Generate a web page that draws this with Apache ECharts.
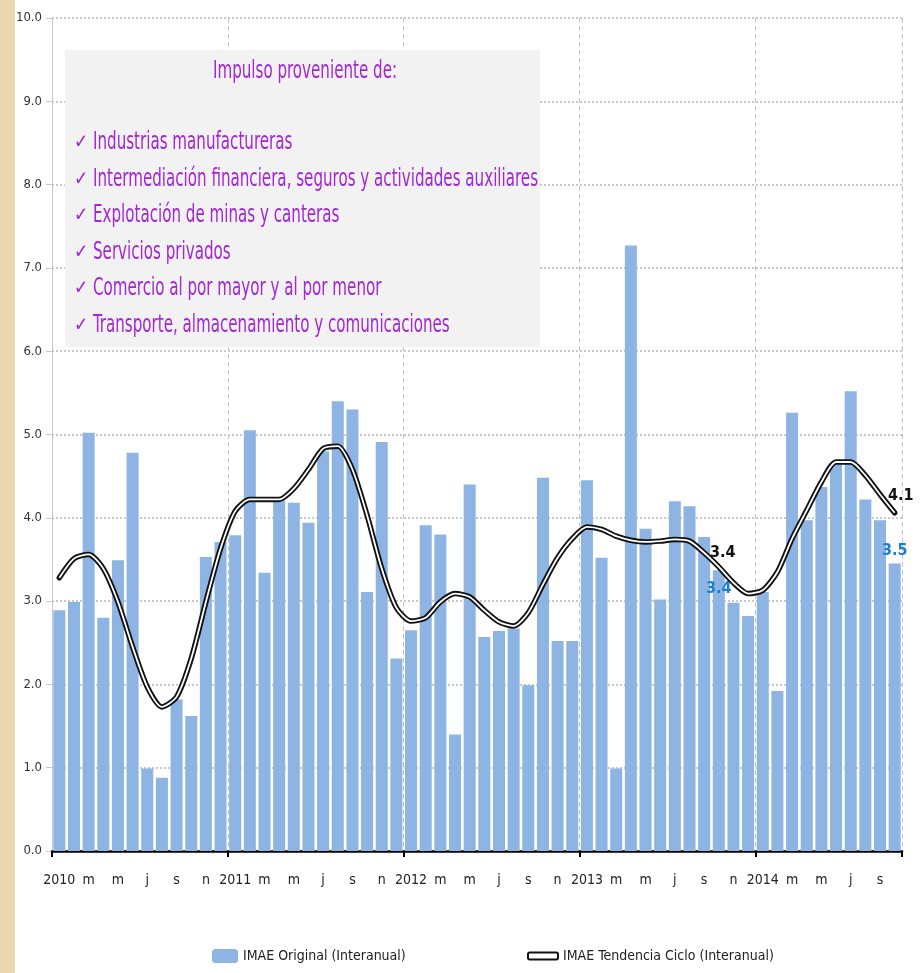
<!DOCTYPE html>
<html>
<head>
<meta charset="utf-8">
<script src="https://cdn.jsdelivr.net/npm/echarts@6/dist/echarts.min.js"></script>
<style>
  html, body { margin: 0; padding: 0; background: #fff; }
  #main { width: 922px; height: 973px; }
</style>
</head>
<body>
<div id="main"></div>
<script>
// meses: ene 2010 - oct 2014
var categories = [
    '2010', 'f', 'm', 'a', 'm', 'j', 'j', 'a', 's', 'o', 'n', 'd',
    '2011', 'f', 'm', 'a', 'm', 'j', 'j', 'a', 's', 'o', 'n', 'd',
    '2012', 'f', 'm', 'a', 'm', 'j', 'j', 'a', 's', 'o', 'n', 'd',
    '2013', 'f', 'm', 'a', 'm', 'j', 'j', 'a', 's', 'o', 'n', 'd',
    '2014', 'f', 'm', 'a', 'm', 'j', 'j', 'a', 's', 'o'
];

var imaeOriginal = [
    2.89, 2.99, 5.02, 2.80, 3.49, 4.78, 0.99, 0.88, 1.82, 1.62, 3.53, 3.71,
    3.79, 5.05, 3.34, 4.22, 4.18, 3.94, 4.80, 5.40, 5.30, 3.11, 4.91, 2.31,
    2.65, 3.91, 3.80, 1.40, 4.40, 2.57, 2.64, 2.67, 1.99, 4.48, 2.52, 2.52,
    4.45, 3.52, 0.99, 7.27, 3.87, 3.02, 4.20, 4.14, 3.77, 3.37, 2.98, 2.82,
    3.11, 1.92, 5.26, 3.97, 4.37, 4.65, 5.52, 4.22, 3.97, 3.45
];

var imaeTendencia = [
    3.28, 3.51, 3.56, 3.39, 2.99, 2.45, 1.97, 1.73, 1.85, 2.31, 2.99, 3.63,
    4.08, 4.22, 4.22, 4.22, 4.35, 4.58, 4.83, 4.86, 4.58, 4.03, 3.39, 2.92,
    2.76, 2.80, 2.99, 3.09, 3.05, 2.89, 2.75, 2.70, 2.86, 3.20, 3.52, 3.75,
    3.89, 3.86, 3.78, 3.73, 3.71, 3.72, 3.74, 3.72, 3.58, 3.41, 3.22, 3.09,
    3.13, 3.35, 3.75, 4.09, 4.43, 4.67, 4.67, 4.51, 4.28, 4.06
];

var yTicks = [0, 1, 2, 3, 4, 5, 6, 7, 8, 9, 10];

var boxTitle = 'Impulso proveniente de:';
var boxItems = [
    'Industrias manufactureras',
    'Intermediación financiera, seguros y actividades auxiliares',
    'Explotación de minas y canteras',
    'Servicios privados',
    'Comercio al por mayor y al por menor',
    'Transporte, almacenamiento y comunicaciones'
];

var FONT = '"Liberation Sans Narrow", "DejaVu Sans Condensed", "Liberation Sans", sans-serif';
var PURPLE = '#a128d2';
var BAR = '#8db4e2';
var NARROW = 0.7;  // el texto del original es alto y estrecho

// etiquetas en oct 2013 (idx 45) y oct 2014 (idx 57)
var barData = imaeOriginal.map(function (v, i) {
    if (i === 45) {
        return { value: v, label: { show: true, position: 'insideTop', offset: [0, 6] } };
    }
    if (i === 57) {
        return { value: v, label: { show: true, position: 'top' } };
    }
    return v;
});

var trendData = imaeTendencia.map(function (v, i) {
    if (i === 45) {
        return { value: v, label: { show: true, position: 'top', offset: [4, 0] } };
    }
    if (i === 57) {
        return { value: v, label: { show: true, position: 'top', offset: [6, -3] } };
    }
    return v;
});

var boxGraphics = [
    { type: 'rect', shape: { x: 65, y: 50, width: 475, height: 297 }, style: { fill: '#f2f2f2' }, z: 1 },
    { type: 'text', x: 305, y: 72, z: 2, scaleX: NARROW,
      style: { text: boxTitle, fill: PURPLE, font: '24px ' + FONT, textAlign: 'center', textVerticalAlign: 'middle' } }
];
boxItems.forEach(function (t, i) {
    var y = 143 + i * 36.5;
    boxGraphics.push({ type: 'text', x: 74, y: y, z: 2, scaleX: 0.85,
        style: { text: '✓', fill: PURPLE, font: '20px "DejaVu Sans", sans-serif', textVerticalAlign: 'middle' } });
    boxGraphics.push({ type: 'text', x: 93, y: y, z: 2, scaleX: NARROW,
        style: { text: t, fill: PURPLE, font: '24px ' + FONT, textVerticalAlign: 'middle' } });
});

var option = {
    backgroundColor: '#fff',
    animation: false,
    textStyle: { fontFamily: FONT },
    graphic: [
        { type: 'rect', shape: { x: 0, y: 0, width: 15, height: 973 }, style: { fill: '#ead7ae' }, z: -10 }
    ].concat(boxGraphics),
    legend: [
        {
            data: ['IMAE Original (Interanual)'],
            left: 207, top: 944,
            itemWidth: 26, itemHeight: 14,
            textStyle: { fontFamily: FONT, fontSize: 14, color: '#222' }
        },
        {
            data: [{
                name: 'IMAE Tendencia Ciclo (Interanual)',
                icon: 'roundRect',
                itemStyle: { color: '#fff', borderColor: '#111', borderWidth: 2 }
            }],
            left: 522, top: 944,
            itemWidth: 30, itemHeight: 7,
            textStyle: { fontFamily: FONT, fontSize: 14, color: '#222' }
        }
    ],
    grid: { left: 52, right: 20, top: 18, bottom: 122 },
    xAxis: {
        type: 'category',
        data: categories,
        boundaryGap: true,
        axisLine: { lineStyle: { color: '#000', width: 2.5 } },
        axisTick: {
            show: true, length: 6, inside: false,
            interval: function (i) { return i % 12 === 0; },
            lineStyle: { color: '#000', width: 2 }
        },
        axisLabel: {
            interval: function (i) { return i % 2 === 0; },
            color: '#222', fontSize: 14, margin: 22, fontFamily: FONT
        },
        splitLine: {
            show: true,
            interval: function (i) { return i % 12 === 0 && i > 0; },
            lineStyle: { color: '#c4c4c4', type: [5, 3], width: 1 }
        }
    },
    yAxis: {
        type: 'value',
        min: yTicks[0], max: yTicks[yTicks.length - 1], interval: 1,
        axisLine: { show: true, lineStyle: { color: '#c8c8c8', width: 1 } },
        axisTick: { show: true, length: 6, lineStyle: { color: '#c8c8c8' } },
        axisLabel: {
            color: '#333', fontSize: 13, margin: 10, fontFamily: FONT,
            formatter: function (v) { return v.toFixed(1); }
        },
        splitLine: { lineStyle: { color: '#b8b8b8', type: [2, 2], width: 1.5 } }
    },
    series: [
        {
            name: 'IMAE Original (Interanual)',
            type: 'bar',
            data: barData,
            barCategoryGap: '18%',
            itemStyle: { color: BAR },
            label: {
                show: false, color: '#1a7fd4', fontWeight: 'bold',
                fontSize: 16, fontFamily: FONT,
                formatter: function (p) { return p.value.toFixed(1); }
            },
            z: 2
        },
        {
            name: 'IMAE Tendencia Ciclo (Interanual)',
            type: 'line',
            data: trendData,
            smooth: 0.25,
            symbol: 'circle',
            symbolSize: 2,
            showSymbol: true,
            lineStyle: { color: '#111', width: 5.5, cap: 'round' },
            itemStyle: { color: '#111' },
            label: {
                show: false, color: '#111', fontWeight: 'bold',
                fontSize: 16, fontFamily: FONT,
                formatter: function (p) { return p.value.toFixed(1); }
            },
            z: 3
        },
        {
            name: 'trendInner',
            type: 'line',
            data: imaeTendencia,
            smooth: 0.25,
            symbol: 'none',
            silent: true,
            lineStyle: { color: '#fff', width: 1.8 },
            z: 4
        }
    ]
};

var myChart = echarts.init(document.getElementById('main'));
myChart.setOption(option);
</script>
</body>
</html>
